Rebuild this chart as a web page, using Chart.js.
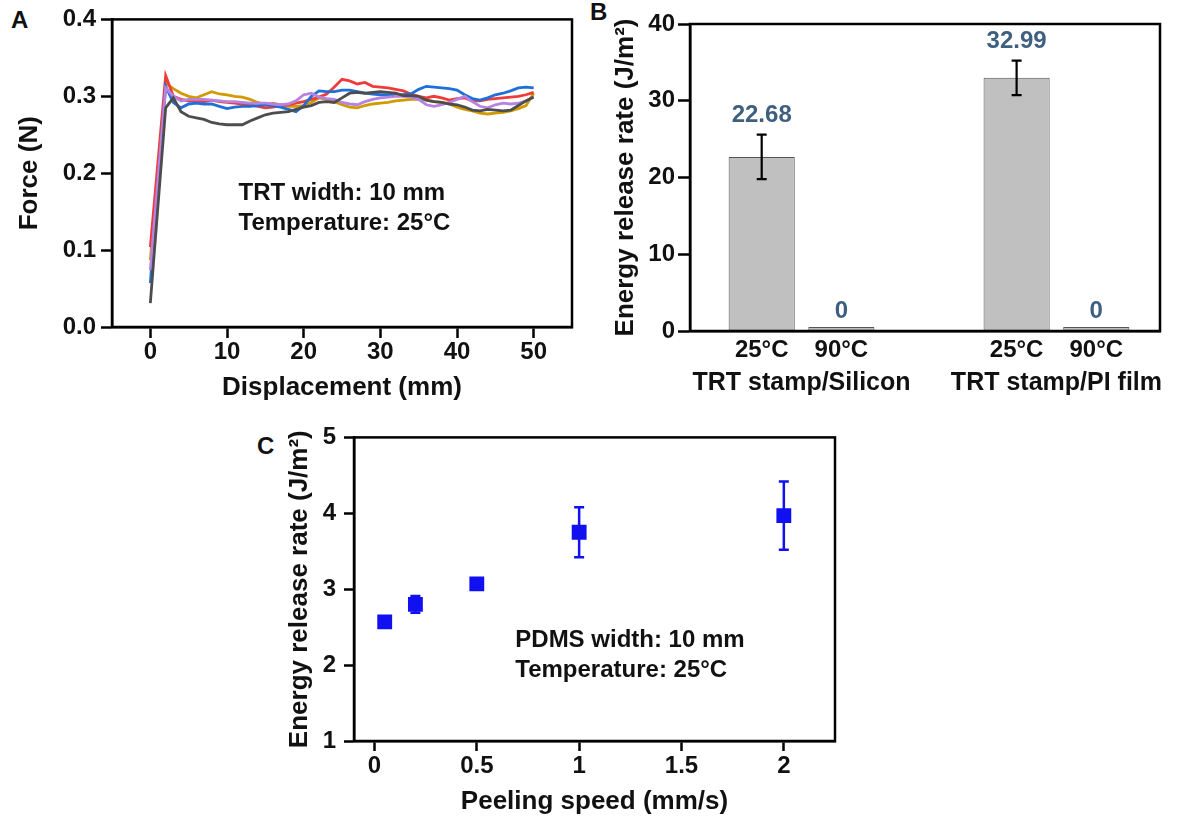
<!DOCTYPE html>
<html>
<head>
<meta charset="utf-8">
<script src="https://cdn.jsdelivr.net/npm/chart.js@4.4.1/dist/chart.umd.min.js"></script>
<style>
  html, body { margin: 0; padding: 0; background: #fff; }
  body { width: 1177px; height: 820px; position: relative; overflow: hidden; font-family: 'Liberation Sans', Arial, sans-serif; }
  .box { position: absolute; }
  .tag { position: absolute; font-weight: bold; font-size: 24px; line-height: 24px; color: #111; }
</style>
</head>
<body>
<div class="tag" style="left:11px;top:8px">A</div>
<div class="tag" style="left:590px;top:0px">B</div>
<div class="tag" style="left:257px;top:434px">C</div>
<div class="box" style="left:0;top:0;width:590px;height:410px"><canvas id="chartA"></canvas></div>
<div class="box" style="left:590px;top:0;width:587px;height:410px"><canvas id="chartB"></canvas></div>
<div class="box" style="left:250px;top:415px;width:610px;height:405px"><canvas id="chartC"></canvas></div>
<script>
// --- panel A: force vs displacement, five peel runs ---
const displacement = [0, 2, 3, 4, 5, 6, 7, 8, 9, 10, 11, 12, 13, 14, 15, 16, 17, 18, 19, 20,
  21, 22, 23, 24, 25, 26, 27, 28, 29, 30, 31, 32, 33, 34, 35, 36, 37, 38, 39, 40,
  41, 42, 43, 44, 45, 46, 47, 48, 49, 50];
const forceGray = [0.031, 0.285, 0.298, 0.280, 0.274, 0.272, 0.270, 0.266, 0.264, 0.263, 0.263, 0.263, 0.268, 0.272, 0.276, 0.278, 0.279, 0.280, 0.283, 0.286,
  0.288, 0.292, 0.293, 0.292, 0.298, 0.304, 0.305, 0.304, 0.305, 0.306, 0.305, 0.304, 0.301, 0.301, 0.300, 0.295, 0.293, 0.292, 0.290, 0.289,
  0.286, 0.282, 0.281, 0.283, 0.282, 0.281, 0.282, 0.288, 0.294, 0.299];
const forcePurple = [0.074, 0.311, 0.300, 0.294, 0.296, 0.296, 0.296, 0.295, 0.294, 0.293, 0.293, 0.292, 0.291, 0.291, 0.291, 0.290, 0.289, 0.290, 0.294, 0.302,
  0.304, 0.299, 0.297, 0.296, 0.292, 0.290, 0.289, 0.293, 0.296, 0.298, 0.299, 0.300, 0.300, 0.299, 0.296, 0.289, 0.287, 0.289, 0.292, 0.296,
  0.300, 0.293, 0.287, 0.285, 0.289, 0.291, 0.290, 0.291, 0.294, 0.299];
const forceBlue = [0.057, 0.313, 0.292, 0.285, 0.290, 0.291, 0.290, 0.290, 0.287, 0.284, 0.286, 0.287, 0.287, 0.288, 0.289, 0.288, 0.286, 0.283, 0.280, 0.288,
  0.300, 0.307, 0.306, 0.306, 0.308, 0.308, 0.306, 0.304, 0.303, 0.302, 0.302, 0.302, 0.302, 0.303, 0.309, 0.313, 0.312, 0.311, 0.310, 0.308,
  0.302, 0.297, 0.295, 0.298, 0.302, 0.304, 0.307, 0.311, 0.312, 0.311];
const forceRed = [0.104, 0.327, 0.300, 0.296, 0.294, 0.294, 0.293, 0.295, 0.293, 0.292, 0.291, 0.290, 0.289, 0.287, 0.285, 0.286, 0.288, 0.289, 0.291, 0.293,
  0.296, 0.299, 0.303, 0.312, 0.322, 0.320, 0.316, 0.318, 0.313, 0.312, 0.311, 0.309, 0.307, 0.303, 0.300, 0.298, 0.300, 0.298, 0.295, 0.297,
  0.298, 0.294, 0.294, 0.296, 0.297, 0.298, 0.299, 0.300, 0.302, 0.305];
const forceGold = [0.087, 0.317, 0.310, 0.304, 0.300, 0.298, 0.302, 0.306, 0.303, 0.302, 0.300, 0.299, 0.296, 0.292, 0.289, 0.291, 0.289, 0.287, 0.287, 0.288,
  0.292, 0.298, 0.296, 0.293, 0.289, 0.286, 0.285, 0.288, 0.290, 0.291, 0.292, 0.294, 0.295, 0.296, 0.296, 0.295, 0.293, 0.292, 0.290, 0.286,
  0.283, 0.281, 0.278, 0.277, 0.278, 0.279, 0.281, 0.284, 0.288, 0.304];
const dispTicks = [0, 10, 20, 30, 40, 50];
const forceTicks = [0, 0.1, 0.2, 0.3, 0.4];

// --- panel B: energy release rate per stamp/substrate and temperature ---
const groups = ['TRT stamp/Silicon', 'TRT stamp/PI film'];
const temps = ['25°C', '90°C'];
const siliconRate = [22.68, 0];
const siliconErr = [2.9, 0];
const piRate = [32.99, 0];
const piErr = [2.25, 0];
const rateTicks = [0, 10, 20, 30, 40];

// --- panel C: energy release rate vs peeling speed ---
const speed = [0.05, 0.2, 0.5, 1, 2];
const speedRate = [2.57, 2.80, 3.07, 3.75, 3.97];
const speedErr = [0.05, 0.11, 0.07, 0.33, 0.45];
const speedTicks = [0, 0.5, 1, 1.5, 2];
const speedRateTicks = [1, 2, 3, 4, 5];

const FONT = "'Liberation Sans', Arial, sans-serif";
const INK = '#111';
Chart.defaults.font.family = FONT;
Chart.defaults.font.weight = 'bold';
Chart.defaults.color = INK;

// box round the plot area
const frame = {
  id: 'frame',
  afterDraw(chart) {
    const { ctx, chartArea: a } = chart;
    ctx.save();
    ctx.strokeStyle = '#000';
    ctx.lineWidth = 2.5;
    ctx.strokeRect(a.left, a.top, a.right - a.left, a.bottom - a.top);
    ctx.restore();
  }
};

// text notes placed in data units
const notes = {
  id: 'notes',
  afterDatasetsDraw(chart, args, opts) {
    if (!opts.lines) return;
    const { ctx, scales: { x, y } } = chart;
    ctx.save();
    ctx.font = 'bold 24px ' + FONT;
    ctx.fillStyle = INK;
    ctx.textBaseline = 'middle';
    opts.lines.forEach((t, i) => ctx.fillText(t, x.getPixelForValue(opts.x), y.getPixelForValue(opts.y[i])));
    ctx.restore();
  }
};

function axisStyle(ticks, tickLen, pad, fmt, extra) {
  return Object.assign({
    type: 'linear',
    afterBuildTicks: s => { s.ticks = ticks.map(v => ({ value: v })); },
    grid: { drawOnChartArea: false, drawTicks: true, tickLength: tickLen, tickWidth: 2.5, tickColor: '#000' },
    border: { display: true, color: '#000', width: 2.5 },
    ticks: { color: INK, font: { size: 24, weight: 'bold' }, padding: pad, maxRotation: 0, autoSkip: false, callback: fmt }
  }, extra);
}

function titleStyle(text, padding) {
  return { display: true, text, color: INK, font: { size: 26, weight: 'bold' }, padding };
}

// ---------- A ----------
const runs = [
  { values: forceGray, color: '#4d4d4d' },
  { values: forcePurple, color: '#b783e2' },
  { values: forceBlue, color: '#1f6fd8' },
  { values: forceRed, color: '#f03b3b' },
  { values: forceGold, color: '#d09a00' }
];

new Chart(document.getElementById('chartA'), {
  type: 'line',
  data: {
    datasets: runs.map(r => ({
      data: displacement.map((x, i) => ({ x, y: r.values[i] })),
      borderColor: r.color,
      borderWidth: 2.8,
      pointRadius: 0,
      tension: 0,
      fill: false
    }))
  },
  options: {
    animation: false,
    responsive: true,
    maintainAspectRatio: false,
    layout: { padding: { top: 18, right: 18, left: 0, bottom: 0 } },
    plugins: {
      legend: { display: false },
      tooltip: { enabled: false },
      notes: { lines: ['TRT width: 10 mm', 'Temperature: 25°C'], x: 11.5, y: [0.1735, 0.1346] }
    },
    scales: {
      x: axisStyle(dispTicks, 11, 0, v => String(v), {
        min: -5, max: 55,
        afterFit: s => { s.height = 83; },
        title: titleStyle('Displacement (mm)', { top: 0, bottom: 7 })
      }),
      y: axisStyle(forceTicks, 11, 5, v => v.toFixed(1), {
        min: 0, max: 0.4,
        afterFit: s => { s.width = 112; },
        title: titleStyle('Force (N)', { top: 14, bottom: 0 })
      })
    }
  },
  plugins: [frame, notes]
});

// ---------- B ----------
const GROUP_STEP = 3.2;
const rates = [siliconRate, piRate];
const errs = [siliconErr, piErr];
const bars = [];
groups.forEach((g, gi) => temps.forEach((t, ti) => {
  bars.push({ x: 1 + gi * GROUP_STEP + ti, y: rates[gi][ti], err: errs[gi][ti], label: t });
}));
const groupCentres = groups.map((g, gi) => 1.5 + gi * GROUP_STEP);

const barDecor = {
  id: 'barDecor',
  afterDatasetsDraw(chart) {
    const { ctx, scales: { y } } = chart;
    const meta = chart.getDatasetMeta(0);
    ctx.save();
    meta.data.forEach((el, i) => {
      const b = bars[i];
      let top = el.y;
      if (b.err > 0) {
        const hi = y.getPixelForValue(b.y + b.err);
        const lo = y.getPixelForValue(b.y - b.err);
        ctx.strokeStyle = '#000';
        ctx.lineWidth = 2.2;
        ctx.beginPath();
        ctx.moveTo(el.x, hi); ctx.lineTo(el.x, lo);
        ctx.moveTo(el.x - 5, hi); ctx.lineTo(el.x + 5, hi);
        ctx.moveTo(el.x - 5, lo); ctx.lineTo(el.x + 5, lo);
        ctx.stroke();
        top = hi;
      }
      ctx.fillStyle = '#3f5f80';
      ctx.font = 'bold 24px ' + FONT;
      ctx.textAlign = 'center';
      ctx.textBaseline = 'middle';
      ctx.fillText(String(b.y), el.x, top - (b.err > 0 ? 19 : 16));
    });
    ctx.restore();
  }
};

new Chart(document.getElementById('chartB'), {
  type: 'bar',
  data: {
    datasets: [{
      data: bars.map(b => ({ x: b.x, y: b.y })),
      backgroundColor: '#c0c0c0',
      borderColor: '#555',
      borderWidth: 1,
      borderSkipped: false,
      minBarLength: 4,
      barPercentage: 0.83,
      categoryPercentage: 1
    }]
  },
  options: {
    animation: false,
    responsive: true,
    maintainAspectRatio: false,
    layout: { padding: { top: 24, right: 17, left: 0, bottom: 0 } },
    plugins: { legend: { display: false }, tooltip: { enabled: false } },
    scales: {
      x: {
        type: 'linear', min: 0.1, max: 6.0, offset: false, weight: 0,
        afterBuildTicks: s => { s.ticks = bars.map(b => ({ value: b.x })); },
        afterFit: s => { s.height = 33; },
        grid: { display: false, drawTicks: false },
        border: { display: true, color: '#000', width: 2.5 },
        ticks: { color: INK, font: { size: 24, weight: 'bold' }, padding: 5, maxRotation: 0, autoSkip: false,
          callback: (v, i) => bars[i].label }
      },
      x2: {
        type: 'linear', position: 'bottom', min: 0.1, max: 6.0, offset: false, weight: 1,
        afterBuildTicks: s => { s.ticks = groupCentres.map(v => ({ value: v })); },
        afterFit: s => { s.height = 46; },
        grid: { display: false, drawTicks: false },
        border: { display: false },
        ticks: { color: INK, font: { size: 25, weight: 'bold' }, padding: 4, maxRotation: 0, autoSkip: false,
          callback: (v, i) => groups[i] }
      },
      y: axisStyle(rateTicks, 12, 3, v => String(v), {
        min: 0, max: 40,
        afterFit: s => { s.width = 100; },
        title: titleStyle('Energy release rate (J/m²)', { top: 20, bottom: 0 })
      })
    }
  },
  plugins: [frame, barDecor]
});

// ---------- C ----------
const BLUE = '#1010f0';
const speedErrBars = {
  id: 'speedErrBars',
  beforeDatasetsDraw(chart) {
    const { ctx, scales: { x, y } } = chart;
    ctx.save();
    ctx.strokeStyle = BLUE;
    ctx.lineWidth = 2.5;
    speed.forEach((s, i) => {
      const px = x.getPixelForValue(s);
      const hi = y.getPixelForValue(speedRate[i] + speedErr[i]);
      const lo = y.getPixelForValue(speedRate[i] - speedErr[i]);
      ctx.beginPath();
      ctx.moveTo(px, hi); ctx.lineTo(px, lo);
      ctx.moveTo(px - 5, hi); ctx.lineTo(px + 5, hi);
      ctx.moveTo(px - 5, lo); ctx.lineTo(px + 5, lo);
      ctx.stroke();
    });
    ctx.restore();
  }
};

new Chart(document.getElementById('chartC'), {
  type: 'scatter',
  data: {
    datasets: [{
      data: speed.map((s, i) => ({ x: s, y: speedRate[i] })),
      pointStyle: 'rect',
      pointRadius: 10.5,
      backgroundColor: BLUE,
      borderWidth: 0
    }]
  },
  options: {
    animation: false,
    responsive: true,
    maintainAspectRatio: false,
    layout: { padding: { top: 20, right: 25, left: 0, bottom: 0 } },
    plugins: {
      legend: { display: false },
      tooltip: { enabled: false },
      notes: { lines: ['PDMS width: 10 mm', 'Temperature: 25°C'], x: 0.688, y: [2.32, 1.93] }
    },
    scales: {
      x: axisStyle(speedTicks, 10, 1, v => String(v), {
        min: -0.1, max: 2.25,
        afterFit: s => { s.height = 79; },
        title: titleStyle('Peeling speed (mm/s)', { top: 0, bottom: 3 })
      }),
      y: axisStyle(speedRateTicks, 10, 8, v => String(v), {
        min: 1, max: 5,
        afterFit: s => { s.width = 104; },
        title: titleStyle('Energy release rate (J/m²)', { top: 34, bottom: 0 })
      })
    }
  },
  plugins: [frame, notes, speedErrBars]
});
</script>
</body>
</html>
